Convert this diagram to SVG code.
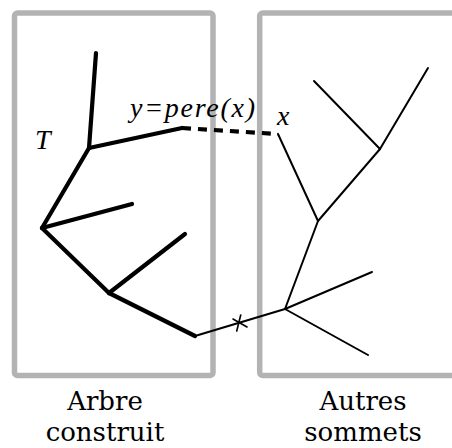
<svg xmlns="http://www.w3.org/2000/svg" width="452" height="448" viewBox="0 0 452 448">
<style>
.box{fill:none;stroke:#b3b3b3;stroke-width:5.5}
.thick{stroke:#000;stroke-width:4.2;stroke-linecap:round;fill:none}
.thin{stroke:#000;stroke-width:2;stroke-linecap:round;fill:none}
.dash{stroke:#000;stroke-width:4.2;stroke-dasharray:9,7;fill:none}
.math{font-family:"Liberation Serif","Times New Roman",serif;font-style:italic;font-size:28px;fill:#000}
.lbl{font-family:"DejaVu Serif",serif;font-size:26px;fill:#000;text-anchor:middle}
</style>
<rect width="452" height="448" fill="#fff"/>
<g id="box-arbre"><rect class="box" x="14.5" y="13" width="198.5" height="362.5" rx="3"/></g>
<g id="box-autres"><rect class="box" x="259.7" y="13" width="200" height="362.5" rx="3"/></g>
<g id="connectors">
<line class="thick" x1="96" y1="53" x2="89" y2="148"/>
<line class="thick" x1="89" y1="148" x2="182" y2="128"/>
<line class="thick" x1="89" y1="148" x2="42" y2="228"/>
<line class="thick" x1="42" y1="228" x2="132" y2="204"/>
<line class="thick" x1="42" y1="228" x2="109" y2="293"/>
<line class="thick" x1="109" y1="293" x2="185" y2="234"/>
<line class="thick" x1="109" y1="293" x2="195" y2="336"/>
<line class="dash" x1="182" y1="128" x2="278" y2="134"/>
<line class="thin" x1="278" y1="134" x2="318" y2="221"/>
<line class="thin" x1="318" y1="221" x2="380" y2="149"/>
<line class="thin" x1="380" y1="149" x2="314" y2="81"/>
<line class="thin" x1="380" y1="149" x2="428" y2="68"/>
<line class="thin" x1="318" y1="221" x2="285" y2="309"/>
<line class="thin" x1="285" y1="309" x2="372" y2="272"/>
<line class="thin" x1="285" y1="309" x2="368" y2="355"/>
<line class="thin" x1="195" y1="336" x2="285" y2="309"/>
<line class="thin" x1="233" y1="319" x2="247" y2="327" style="stroke-width:1.6"/>
<line class="thin" x1="240.7" y1="315" x2="236.7" y2="331" style="stroke-width:1.6"/>
</g>
<g id="labels">
<text class="math" x="35" y="149">T</text>
<text class="math" x="130" y="117" textLength="125" lengthAdjust="spacing">y=pere(x)</text>
<text class="math" x="277" y="125">x</text>
<text class="lbl" x="105" y="410">Arbre</text>
<text class="lbl" x="105" y="441">construit</text>
<text class="lbl" x="363" y="410">Autres</text>
<text class="lbl" x="363" y="441">sommets</text>
</g>
</svg>
